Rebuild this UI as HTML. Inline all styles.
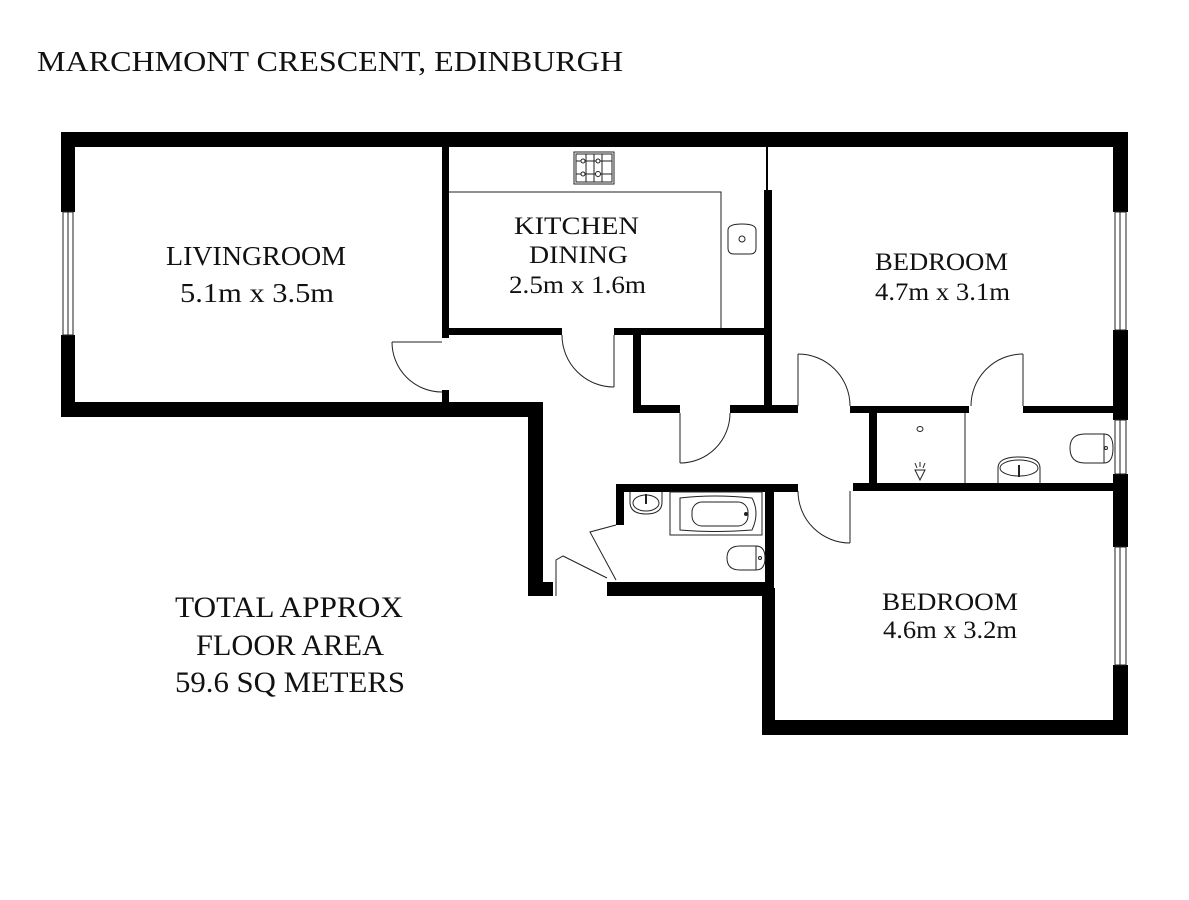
<!DOCTYPE html>
<html><head><meta charset="utf-8"><style>
html,body{margin:0;padding:0;background:#fff;}
svg{display:block;}
text{font-family:"Liberation Serif",serif;fill:#111;}
</style></head><body>
<svg width="1189" height="900" viewBox="0 0 1189 900" xmlns="http://www.w3.org/2000/svg">
<rect width="1189" height="900" fill="#fff"/>
<text x="37" y="71" font-size="29" textLength="586" lengthAdjust="spacingAndGlyphs">MARCHMONT CRESCENT, EDINBURGH</text>

<g fill="#000">
<rect x="61" y="132" width="1067" height="15"/>
<rect x="61" y="132" width="14" height="80"/>
<rect x="61" y="335" width="14" height="82"/>
<rect x="61" y="402" width="482" height="15"/>
<rect x="528" y="402" width="15" height="194"/>
<rect x="528" y="582" width="25" height="14"/>
<rect x="442" y="146" width="7" height="192"/>
<rect x="442" y="390" width="7" height="14"/>
<rect x="442" y="328" width="120" height="7"/>
<rect x="614" y="328" width="158" height="7"/>
<rect x="764" y="190" width="8" height="222"/>
<rect x="766" y="146" width="2" height="46"/>
<rect x="633" y="328" width="8" height="84"/>
<rect x="633" y="405" width="47" height="8"/>
<rect x="730" y="405" width="68" height="8"/>
<rect x="850" y="406" width="119" height="7"/>
<rect x="1023" y="406" width="92" height="7"/>
<rect x="1113" y="132" width="15" height="80"/>
<rect x="1113" y="330" width="15" height="90"/>
<rect x="1113" y="474" width="15" height="73"/>
<rect x="1113" y="665" width="15" height="70"/>
<rect x="869" y="410" width="8" height="76"/>
<rect x="853" y="483" width="262" height="8"/>
<rect x="616" y="484" width="182" height="8"/>
<rect x="616" y="484" width="8" height="41"/>
<rect x="765" y="484" width="9" height="104"/>
<rect x="607" y="582" width="167" height="14"/>
<rect x="762" y="588" width="13" height="147"/>
<rect x="762" y="720" width="366" height="15"/>
</g>

<g fill="none" stroke="#222" stroke-width="1">
<rect x="63" y="212" width="10" height="123"/><line x1="68" y1="212" x2="68" y2="335"/>
<rect x="1115" y="212" width="11" height="118"/><line x1="1120" y1="212" x2="1120" y2="330"/>
<rect x="1115" y="420" width="11" height="54"/><line x1="1120" y1="420" x2="1120" y2="474"/>
<rect x="1115" y="547" width="11" height="118"/><line x1="1120" y1="547" x2="1120" y2="665"/>
<polyline points="449,192 721,192 721,328"/>
<rect x="574" y="152" width="40" height="32"/>
<rect x="576" y="154" width="36" height="28"/>
<line x1="594" y1="154" x2="594" y2="182"/>
<line x1="586" y1="154" x2="586" y2="182"/><line x1="602" y1="154" x2="602" y2="182"/>
<line x1="576" y1="161" x2="612" y2="161"/><line x1="576" y1="174" x2="612" y2="174"/>
<circle cx="583" cy="161" r="2" fill="#fff"/><circle cx="598" cy="161" r="2" fill="#fff"/>
<circle cx="583" cy="174" r="2" fill="#fff"/><circle cx="598" cy="174" r="2.5" fill="#fff"/>
<path d="M728,230 Q728,224 742,224 Q756,224 756,230 L756,248 Q756,254 750,254 L734,254 Q728,254 728,248 Z"/>
<circle cx="742" cy="239" r="3"/>
<line x1="392" y1="342" x2="442" y2="342"/><path d="M392,342 A50,50 0 0 0 442,392"/>
<line x1="614" y1="335" x2="614" y2="387"/><path d="M562,335 A52,52 0 0 0 614,387"/>
<line x1="680" y1="413" x2="680" y2="463"/><path d="M680,463 A50,50 0 0 0 730,413"/>
<line x1="798" y1="354" x2="798" y2="406"/><path d="M798,354 A52,52 0 0 1 850,406"/>
<line x1="1023" y1="354" x2="1023" y2="406"/><path d="M1023,354 A52,52 0 0 0 971,406"/>
<line x1="850" y1="491" x2="850" y2="543"/><path d="M798,491 A52,52 0 0 0 850,543"/>
<polyline points="616,525 590,532 616,580"/>
<polyline points="556,596 556,560 563,556 607,578"/>
<line x1="965" y1="413" x2="965" y2="483"/>
<ellipse cx="920" cy="429" rx="3" ry="2.5"/>
<path d="M915,470 L925,470 L920,480 Z"/>
<line x1="915" y1="463" x2="917" y2="468"/><line x1="920" y1="462" x2="920" y2="467"/><line x1="925" y1="463" x2="923" y2="468"/>
<path d="M998,483 L998,468 Q998,457 1019,457 Q1040,457 1040,468 L1040,483"/>
<ellipse cx="1019" cy="468" rx="19" ry="8"/>
<line x1="1019" y1="465" x2="1019" y2="477" stroke-width="2"/>
<path d="M1104,434 L1085,434 Q1070,434 1070,448 Q1070,463 1085,463 L1104,463"/>
<path d="M1104,434 Q1113,434 1113,448 Q1113,463 1104,463 Z"/>
<circle cx="1106" cy="448" r="1.5"/>
<path d="M630,492 L630,502 Q630,514 646,514 Q662,514 662,502 L662,492"/>
<ellipse cx="646" cy="503" rx="13" ry="8"/>
<line x1="646" y1="494" x2="646" y2="504" stroke-width="2"/>
<rect x="670" y="492" width="92" height="43"/>
<path d="M680,498 Q714,494 752,498 Q760,513 752,530 Q714,533 680,530 Z"/>
<rect x="692" y="502" width="56" height="24" rx="10"/>
<circle cx="746" cy="514" r="1.5" fill="#222"/>
<path d="M756,546 L740,546 Q727,546 727,558 Q727,570 740,570 L756,570"/>
<path d="M756,546 Q765,546 765,558 Q765,570 756,570 Z"/>
<circle cx="760" cy="558" r="1.5"/>
</g>

<g text-anchor="start">
<text x="166" y="265" font-size="27" textLength="180" lengthAdjust="spacingAndGlyphs">LIVINGROOM</text>
<text x="180" y="302" font-size="27" textLength="154" lengthAdjust="spacingAndGlyphs">5.1m x 3.5m</text>
<text x="514" y="234" font-size="25" textLength="125" lengthAdjust="spacingAndGlyphs">KITCHEN</text>
<text x="529" y="263" font-size="25" textLength="99" lengthAdjust="spacingAndGlyphs">DINING</text>
<text x="509" y="293" font-size="25" textLength="137" lengthAdjust="spacingAndGlyphs">2.5m x 1.6m</text>
<text x="875" y="270" font-size="25" textLength="133" lengthAdjust="spacingAndGlyphs">BEDROOM</text>
<text x="875" y="300" font-size="25" textLength="135" lengthAdjust="spacingAndGlyphs">4.7m x 3.1m</text>
<text x="882" y="610" font-size="25" textLength="136" lengthAdjust="spacingAndGlyphs">BEDROOM</text>
<text x="883" y="638" font-size="25" textLength="134" lengthAdjust="spacingAndGlyphs">4.6m x 3.2m</text>
<text x="175" y="617" font-size="30" textLength="228" lengthAdjust="spacingAndGlyphs">TOTAL APPROX</text>
<text x="196" y="655" font-size="30" textLength="188" lengthAdjust="spacingAndGlyphs">FLOOR AREA</text>
<text x="175" y="692" font-size="30" textLength="230" lengthAdjust="spacingAndGlyphs">59.6 SQ METERS</text>
</g>
</svg>
</body></html>
